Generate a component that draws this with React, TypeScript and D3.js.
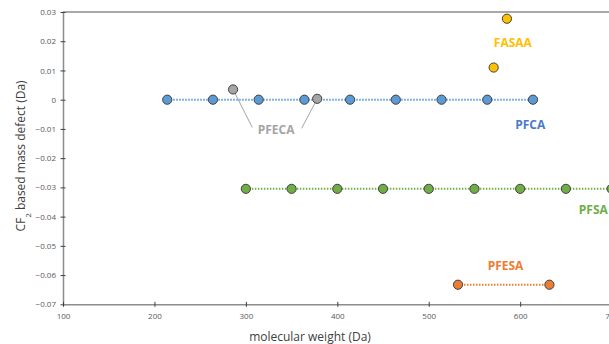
import React, { useEffect, useRef } from 'react';
import * as d3 from 'd3';

// series: [molecular weight, CF2 mass defect]
const pfca: [number, number][] = [
  [214, 0], [264, 0], [314, 0], [364, 0], [414, 0],
  [464, 0], [514, 0], [564, 0], [614, 0],
];
const pfeca: [number, number][] = [[286, 0.0035], [378, 0.0003]];
const fasaa: [number, number][] = [[571, 0.011], [585.5, 0.0277]];
const pfsa: [number, number][] = [
  [300, -0.0305], [350, -0.0305], [400, -0.0305], [450, -0.0305], [500, -0.0305],
  [550, -0.0305], [600, -0.0305], [650, -0.0305], [700, -0.0305],
];
const pfesa: [number, number][] = [[532, -0.0633], [632, -0.0633]];

const xTicks = [100, 200, 300, 400, 500, 600, 700];
const yTicks = [0.03, 0.02, 0.01, 0, -0.01, -0.02, -0.03, -0.04, -0.05, -0.06, -0.07];

const seriesList = [
  { name: 'PFCA', data: pfca, fill: '#5B9BD5', line: true, label: [611, -0.0085], labelColor: '#4A7BC8' },
  { name: 'PFECA', data: pfeca, fill: '#A5A5A5', line: false, label: [333, -0.0102], labelColor: '#A5A5A5' },
  { name: 'FASAA', data: fasaa, fill: '#FFC000', line: false, label: [592, 0.0193], labelColor: '#FFC000' },
  { name: 'PFSA', data: pfsa, fill: '#70AD47', line: true, label: [680, -0.0375], labelColor: '#70AD47' },
  { name: 'PFESA', data: pfesa, fill: '#ED7D31', line: true, label: [584, -0.0567], labelColor: '#ED7D31' },
];

// leader lines from the PFECA label to its points
const pfecaLeaders: [number, number][] = [[307, -0.0095], [361, -0.0098]];

const W = 609;
const H = 344;

const App = () => {
  const svgRef = useRef<SVGSVGElement>(null);

  useEffect(() => {
    const svg = d3.select(svgRef.current);
    svg.selectAll('*').remove();

    const x = d3.scaleLinear().domain([100, 700]).range([63, 611.6]);
    const y = d3.scaleLinear().domain([-0.07, 0.03]).range([304.3, 12]);
    const axisColor = '#8C8C8C';
    const textColor = '#595959';
    const font = "'Open Sans', 'Liberation Sans', sans-serif";

    // top border
    svg.append('line')
      .attr('x1', x(100)).attr('x2', W)
      .attr('y1', y(0.03)).attr('y2', y(0.03))
      .attr('stroke', axisColor).attr('stroke-width', 1.5);

    // y axis
    const gy = svg.append('g')
      .attr('transform', `translate(${x(100)},0)`)
      .call(d3.axisLeft(y).tickValues(yTicks).tickFormat(d => d3.format('')(+d)).tickSizeInner(0).tickSizeOuter(0).tickPadding(7));
    gy.select('.domain').attr('stroke', axisColor).attr('stroke-width', 1.5);
    gy.selectAll('.tick line').attr('x1', -2.5).attr('x2', 2.5).attr('stroke', '#404040');
    gy.selectAll('.tick text').attr('fill', textColor).style('font-family', font).style('font-size', '8px');

    // x axis
    const gx = svg.append('g')
      .attr('transform', `translate(0,${y(-0.07)})`)
      .call(d3.axisBottom(x).tickValues(xTicks).tickFormat(d3.format('d')).tickSizeInner(0).tickSizeOuter(0).tickPadding(9));
    gx.select('.domain').attr('stroke', axisColor).attr('stroke-width', 1.5);
    gx.selectAll('.tick line').attr('y1', -2.5).attr('y2', 2.5).attr('stroke', '#404040');
    gx.selectAll('.tick text').attr('fill', textColor).style('font-family', font).style('font-size', '8px');

    // PFECA leader lines
    pfecaLeaders.forEach((p, i) => {
      svg.append('line')
        .attr('x1', x(pfeca[i][0])).attr('y1', y(pfeca[i][1]))
        .attr('x2', x(p[0])).attr('y2', y(p[1]))
        .attr('stroke', '#A5A5A5').attr('stroke-width', 1);
    });

    const line = d3.line<[number, number]>().x(d => x(d[0])).y(d => y(d[1]));

    seriesList.forEach(s => {
      if (s.line) {
        svg.append('path')
          .attr('d', line(s.data))
          .attr('fill', 'none')
          .attr('stroke', s.fill)
          .attr('stroke-width', 2)
          .attr('stroke-dasharray', '1.5 1.5');
      }
    });

    seriesList.forEach(s => {
      svg.selectAll(null)
        .data(s.data)
        .enter()
        .append('circle')
        .attr('cx', d => x(d[0]))
        .attr('cy', d => y(d[1]))
        .attr('r', 4.6)
        .attr('fill', s.fill)
        .attr('stroke', '#404040')
        .attr('stroke-width', 1);

      svg.append('text')
        .attr('x', x(s.label[0]))
        .attr('y', y(s.label[1]))
        .attr('dy', '0.35em')
        .attr('text-anchor', 'middle')
        .attr('fill', s.labelColor)
        .style('font-family', font)
        .style('font-size', '12px')
        .style('font-weight', 'bold')
        .text(s.name);
    });

    // axis titles
    svg.append('text')
      .attr('x', 310).attr('y', 337)
      .attr('dy', '0.35em')
      .attr('text-anchor', 'middle')
      .attr('fill', '#404040')
      .style('font-family', font)
      .style('font-size', '12px')
      .text('molecular weight (Da)');

    const yt = svg.append('text')
      .attr('transform', 'translate(21,156) rotate(-90)')
      .attr('dy', '0.35em')
      .attr('text-anchor', 'middle')
      .attr('fill', '#404040')
      .style('font-family', font)
      .style('font-size', '12px');
    yt.append('tspan').text('CF');
    yt.append('tspan').attr('baseline-shift', 'sub').style('font-size', '8px').text('2');
    yt.append('tspan').text(' based mass defect (Da)');
  }, []);

  return (
    <svg
      ref={svgRef}
      width={W}
      height={H}
      style={{ position: 'absolute', left: 0, top: 0, background: '#fff' }}
    />
  );
};

export default App;
